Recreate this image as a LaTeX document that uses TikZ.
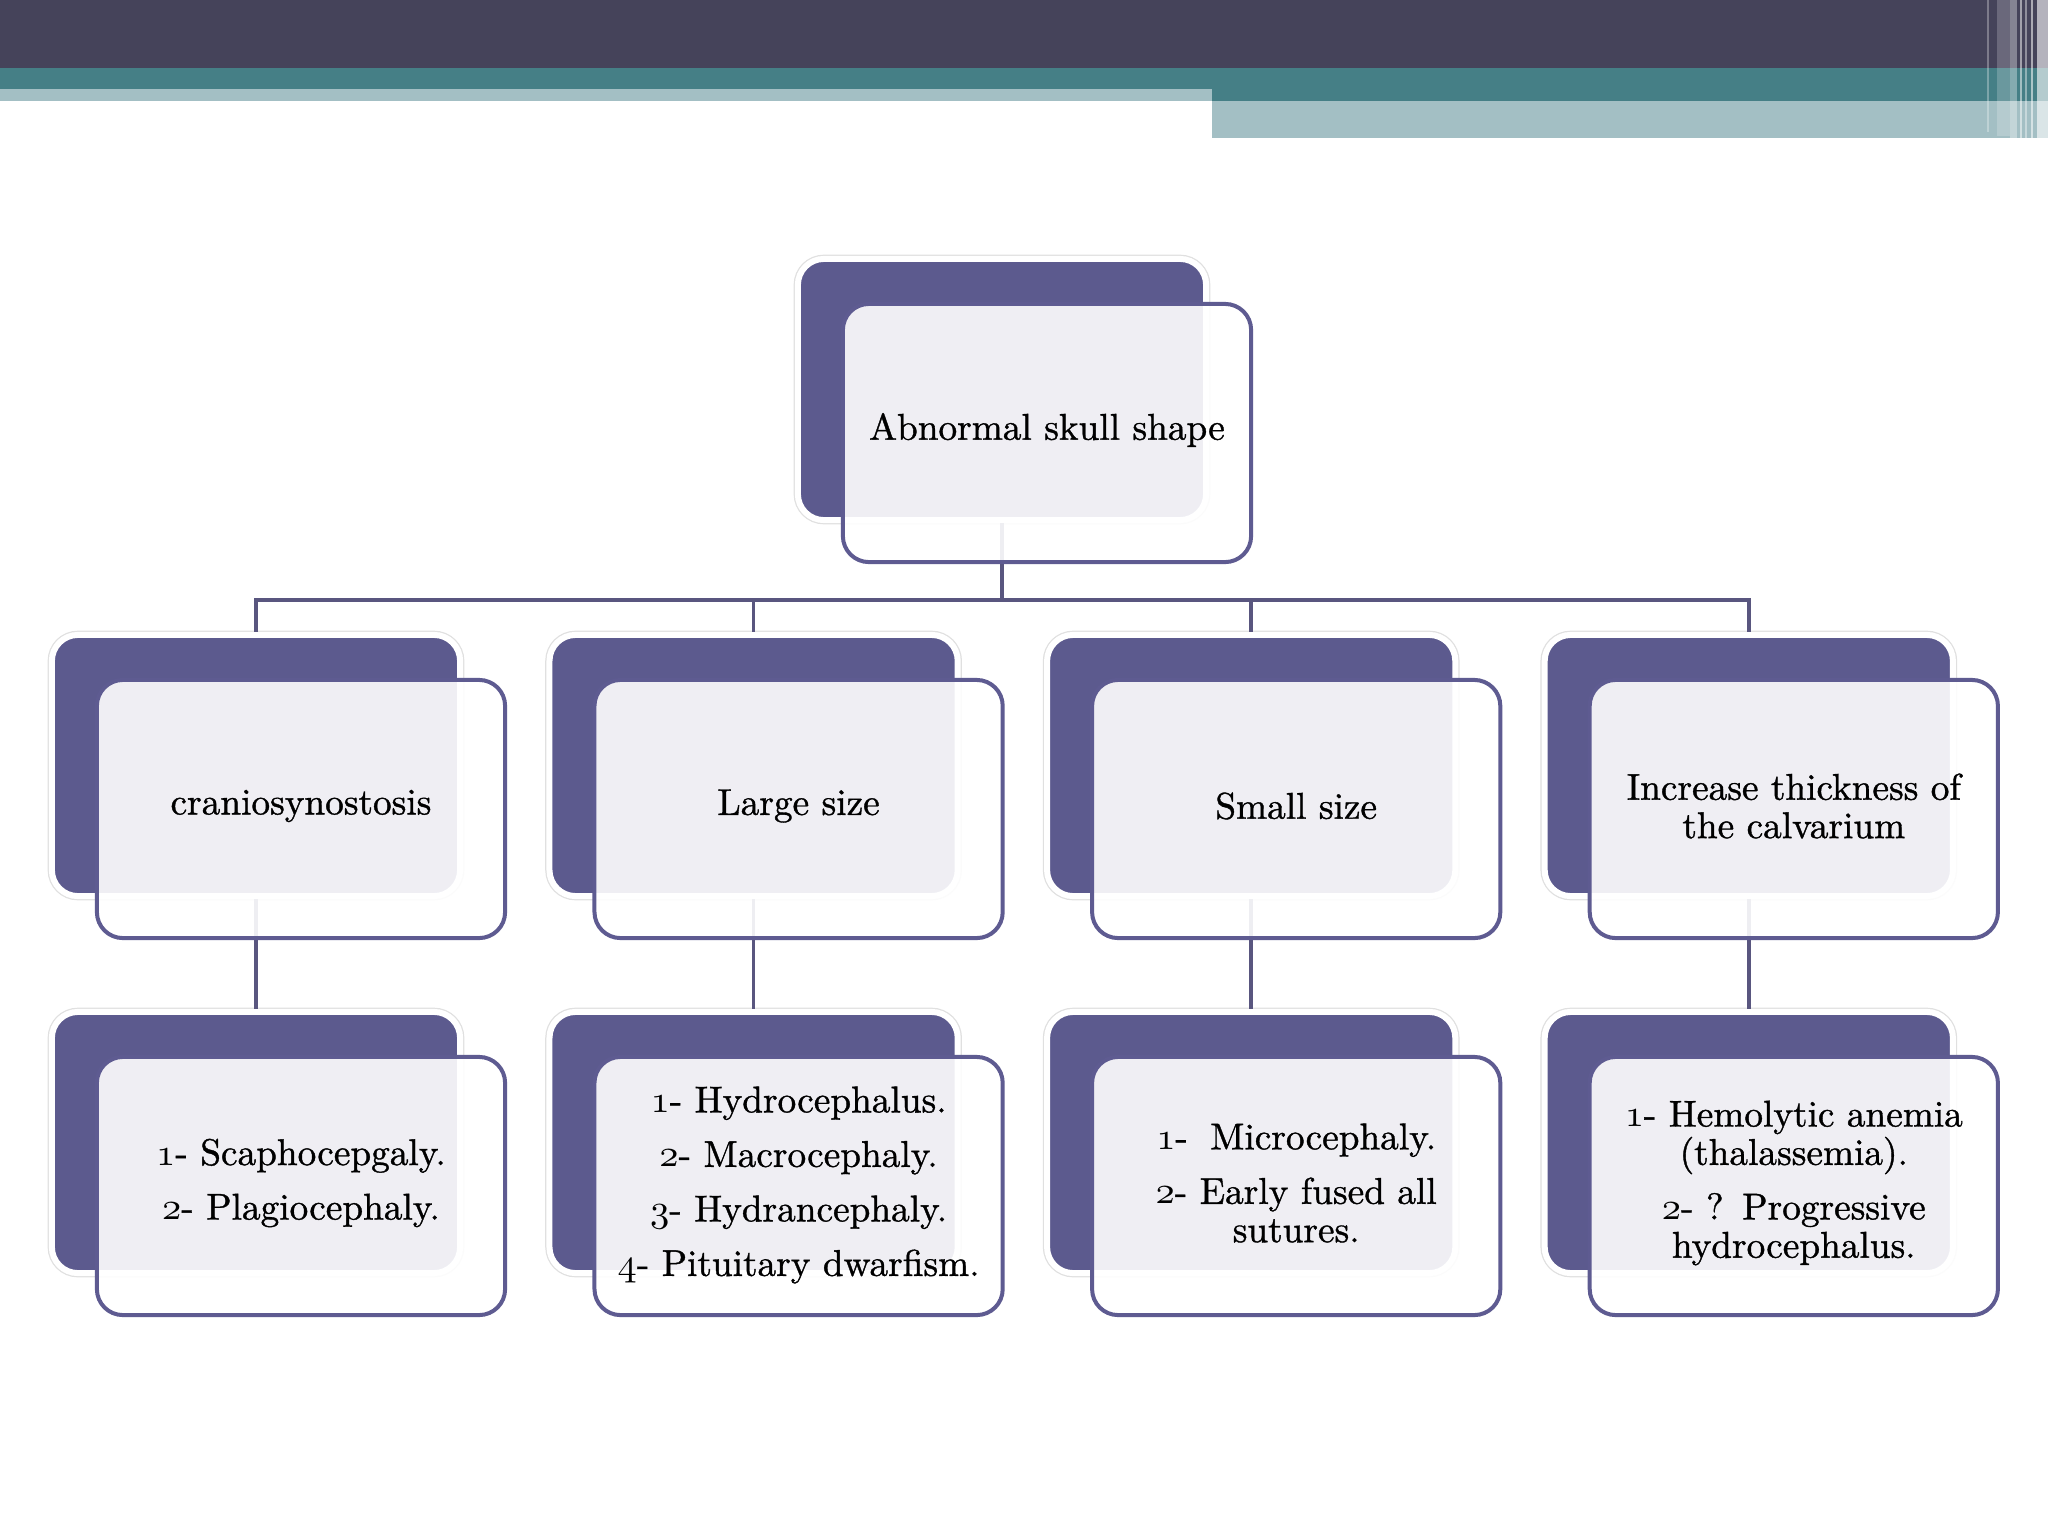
\documentclass[tikz,border=0pt]{standalone}
\usepackage{fontspec}
\usetikzlibrary{calc}
\newfontfamily\heavyfont{Latin Modern Roman}[FakeBold=1.0]
\definecolor{hdark}{HTML}{45435A}
\definecolor{hteal}{HTML}{457F86}
\definecolor{hlight}{HTML}{A3BFC4}
\definecolor{boxpurple}{HTML}{5C5A8E}
\definecolor{frontline}{HTML}{5E5B91}
\definecolor{linkcol}{HTML}{59567F}
\newcommand\mybxfont{\heavyfont\fontsize{10.6pt}{10.9pt}\selectfont}
\newcommand\osn[1]{{\usefont{OML}{cmm}{m}{it}#1}}
\begin{document}
\begin{tikzpicture}[x=0.01cm,y=-0.01cm,
  backbox/.style={rectangle, rounded corners=0.26cm, fill=boxpurple,
    draw=white, line width=0.06cm, minimum width=4.08cm, minimum height=2.61cm,
    inner sep=0pt, preaction={draw=black!12, line width=0.085cm}},
  frontbox/.style={rectangle, rounded corners=0.26cm, fill=white, fill opacity=0.9,
    draw=frontline, draw opacity=1, text opacity=1, line width=0.04cm,
    minimum width=4.08cm, minimum height=2.58cm, inner sep=0pt,
    align=center, text width=3.9cm, font=\mybxfont},
  txt/.style={align=center, text width=3.9cm, font=\mybxfont, inner sep=0pt},
  link/.style={draw=linkcol, line width=0.035cm}]
% page
\fill[white] (0,0) rectangle (2048,1536);
\useasboundingbox (0,0) rectangle (2048,1536);
% header
\fill[hdark] (0,0) rectangle (2048,68);
\fill[hteal] (0,68) rectangle (2048,101);
\fill[hlight] (0,89) rectangle (1212,101);
\fill[hlight] (1212,101) rectangle (2048,138);
\fill[white, opacity=0.30] (1987,0) rectangle (1989,132);
\fill[white, opacity=0.20] (1997,0) rectangle (2010,136);
\fill[white, opacity=0.35] (2010,0) rectangle (2017,138);
\fill[white, opacity=0.50] (2020,0) rectangle (2022,138);
\fill[white, opacity=0.40] (2025,0) rectangle (2027,138);
\fill[white, opacity=0.55] (2031,0) rectangle (2033,138);
\fill[white, opacity=0.60] (2037,0) rectangle (2048,138);
% back boxes
\node[backbox] (b0) at (1002,389.5) {};
\node[backbox] (b1) at (256,765.5) {};
\node[backbox] (b2) at (753.6,765.5) {};
\node[backbox] (b3) at (1251.2,765.5) {};
\node[backbox] (b4) at (1748.8,765.5) {};
\node[backbox] (c1) at (256,1142.5) {};
\node[backbox] (c2) at (753.6,1142.5) {};
\node[backbox] (c3) at (1251.2,1142.5) {};
\node[backbox] (c4) at (1748.8,1142.5) {};
% connectors
\coordinate (bar) at (1002,600);
\draw[link] (b0.south) -- (b0.south |- bar) -| (b1.north);
\draw[link] (b0.south |- bar) -| (b2.north);
\draw[link] (b0.south |- bar) -| (b3.north);
\draw[link] (b0.south |- bar) -| (b4.north);
\draw[link] (b1.south) -- (c1.north);
\draw[link] (b2.south) -- (c2.north);
\draw[link] (b3.south) -- (c3.north);
\draw[link] (b4.south) -- (c4.north);
% front boxes
\node[frontbox] (f0) at ($(b0)+(45,43.5)$) {};
\node[frontbox] (f1) at ($(b1)+(45,43.5)$) {};
\node[frontbox] (f2) at ($(b2)+(45,43.5)$) {};
\node[frontbox] (f3) at ($(b3)+(45,43.5)$) {};
\node[frontbox] (f4) at ($(b4)+(45,43.5)$) {};
\node[frontbox] (g1) at ($(c1)+(45,43.5)$) {};
\node[frontbox] (g2) at ($(c2)+(45,43.5)$) {};
\node[frontbox] (g3) at ($(c3)+(45,43.5)$) {};
\node[frontbox] (g4) at ($(c4)+(45,43.5)$) {};
% texts
\node[txt] (t0) at ($(f0)+(0,-3)$) {Abnormal skull shape};
\node[txt] (t1) at ($(f1)+(0,-3)$) {craniosynostosis};
\node[txt] (t2) at ($(f2)+(0,-3)$) {Large size};
\node[txt] (t3) at ($(f3)+(0,-3)$) {Small size};
\node[txt] (t4) at ($(f4)+(0,-3)$) {Increase thickness of\\the calvarium};
\node[txt] (u1) at ($(g1)+(0,-3)$) {\osn{1}- Scaphocepgaly.\\[4.6pt]\osn{2}- Plagiocephaly.};
\node[txt] (u2) at ($(g2)+(0,-1)$) {\osn{1}- Hydrocephalus.\\[4.6pt]\osn{2}- Macrocephaly.\\[4.6pt]\osn{3}- Hydrancephaly.\\[4.6pt]\osn{4}- Pituitary dwarfism.};
\node[txt] (u3) at ($(g3)+(0,-3)$) {\osn{1}-\hspace{0.6em}Microcephaly.\\[4.6pt]\osn{2}- Early fused all\\sutures.};
\node[txt] (u4) at ($(g4)+(0,-3)$) {\osn{1}- Hemolytic anemia\\(thalassemia).\\[4.6pt]\osn{2}- ? Progressive\\hydrocephalus.};
\end{tikzpicture}
\end{document}
